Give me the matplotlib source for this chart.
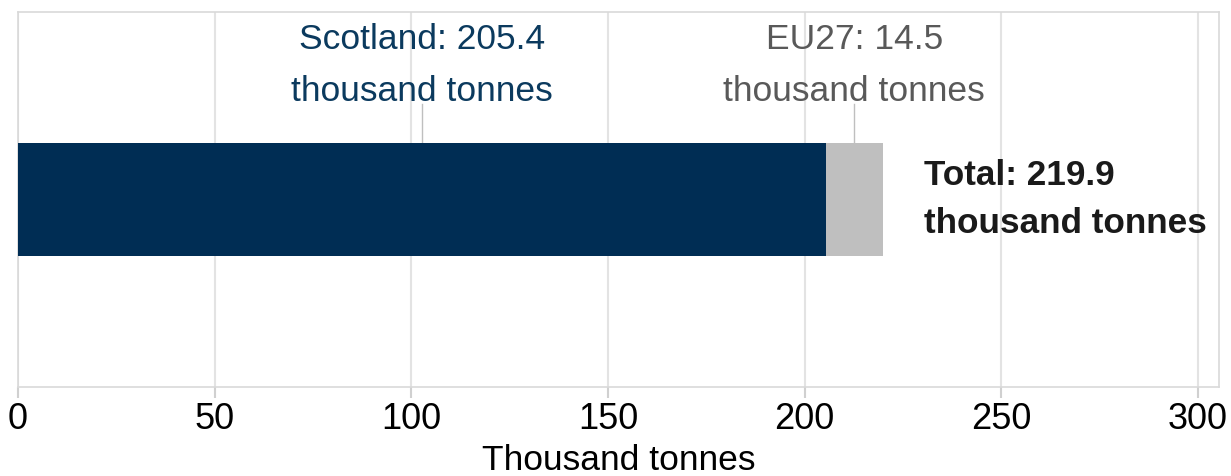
import matplotlib.pyplot as plt

# values in thousand tonnes
labels = ["Scotland", "EU27"]
values = [205.4, 14.5]
colors = ["#002d54", "#bfbfbf"]
text_colors = ["#0b3a5e", "#595959"]
ticks = [0, 50, 100, 150, 200, 250, 300]


def main():
    plt.rcParams['font.family'] = ['Liberation Sans', 'DejaVu Sans']
    fig = plt.figure(figsize=(12.31, 4.76), dpi=100)
    ax = fig.add_axes([18 / 1231, 1 - 387 / 476, (1219 - 18) / 1231, (387 - 12) / 476])

    left = 0
    for name, val, col, tcol in zip(labels, values, colors, text_colors):
        ax.barh(0, val, left=left, height=0.3, color=col, zorder=3)
        mid = left + val / 2
        # connector line from bar top up to the label
        ax.plot([mid, mid], [0.15, 0.255], color="#bfbfbf", lw=1, zorder=2)
        ax.text(mid, 0.245, f"{name}: {val}\nthousand tonnes", ha="center",
                va="bottom", fontsize=25.5, color=tcol, linespacing=1.7)
        left += val

    total = sum(values)
    ax.text(total + 10.5, 0, f"Total: {total:.1f}\nthousand tonnes",
            ha="left", va="center", fontsize=25.3, fontweight="bold",
            color="#1a1a1a", linespacing=1.55)

    ax.set_xlim(0, 305.4)
    ax.set_ylim(-0.5, 0.5)
    ax.set_yticks([])
    ax.set_xticks(ticks)
    ax.tick_params(axis="x", labelsize=26, length=8, color="#d0d0d0",
                   width=1.5, pad=3)
    ax.grid(axis="x", color="#e3e3e3", lw=1.5, zorder=0)
    for s in ax.spines.values():
        s.set_color("#d9d9d9")
        s.set_linewidth(1.2)
    ax.set_xlabel("Thousand tonnes", fontsize=25.5, labelpad=5)

    fig.savefig("out.png", dpi=100)


if __name__ == "__main__":
    main()
